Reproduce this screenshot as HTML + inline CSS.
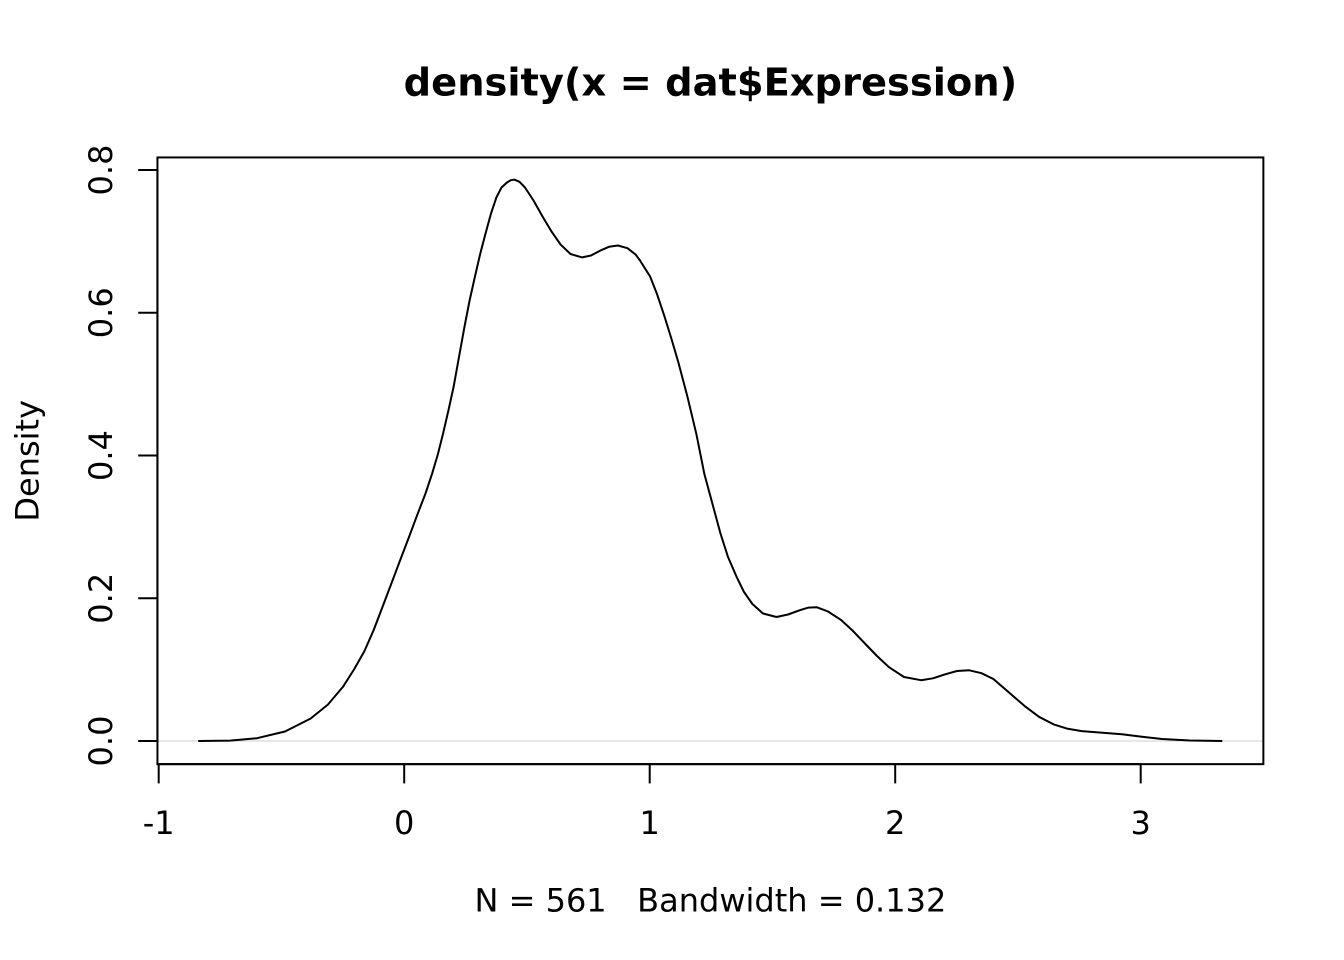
<!DOCTYPE html>
<html>
<head>
<meta charset="utf-8">
<style>
  html, body { margin:0; padding:0; background:#ffffff; }
  svg { display:block; }
  text { font-family: "DejaVu Sans", "Liberation Sans", sans-serif; fill:#000; }
</style>
</head>
<body>
<svg width="1344" height="960" viewBox="0 0 1344 960" xmlns="http://www.w3.org/2000/svg">
  <rect x="0" y="0" width="1344" height="960" fill="#ffffff"/>

  <!-- Title -->
  <text x="710.4" y="95.5" font-size="38.4" font-weight="bold" text-anchor="middle">density(x = dat$Expression)</text>

  <!-- zero line -->
  <line x1="157.44" y1="741" x2="1263.36" y2="741" stroke="#cfcfcf" stroke-width="1"/>

  <!-- density curve -->
  <polyline fill="none" stroke="#000" stroke-width="2" stroke-linejoin="round" stroke-linecap="butt"
    points="198.2,741 230,740.6 257,738.2 285,731.5 310.7,718.5 328,704.5 342.9,686.9 354,669.5 364.3,651.4 373.5,630.5 382.1,608 391,584.5 400,560.6 409,537 417.9,513.2 425.5,493.5 432.1,473.7 437.8,454.5 442.9,434.2 448.3,411 453.6,386.9 459,357 464.3,327.7 469.6,300.5 475,276.3 480.3,253.5 485.7,232.9 491,213.5 496.4,197.4 501.5,187.5 507.1,182.4 510.8,180.2 514.3,179.6 519.5,181.8 525,187.5 533.5,200.5 542.9,217.1 551.5,231.5 560.7,244.7 570.5,254 582.1,257.4 591,255.5 600,250.7 609,246.8 617.9,245.5 627.5,248.2 635.7,254.6 640,260.5 650,276.3 657,294 664.3,315.8 671.5,339 678.6,363.2 687.5,397 696.4,434.2 704.3,473.7 710,494.8 720.3,532.9 728,557 736.4,576.4 744,592 752.4,604 763,613.5 776.5,617 788,614.5 800.6,609.9 808.5,607.6 816.7,607.2 828,611.5 840.8,619.8 852.5,630.5 864.9,643.5 877,656 889,667.2 904,677 921.1,680.2 933,678.3 945.2,674.3 957,671 969.3,670.3 981.5,673.2 993.4,679 1009,692.5 1025.5,706.7 1039,716.8 1053.7,724.4 1067,728.6 1081.8,731.1 1101,732.6 1121.9,734.3 1142,736.8 1162.1,739 1190,740.5 1222.3,741"/>

  <!-- plot box -->
  <rect x="157.44" y="157.44" width="1105.92" height="606.72" fill="none" stroke="#000" stroke-width="2"/>

  <!-- x axis ticks -->
  <g stroke="#000" stroke-width="2">
    <line x1="158.7" y1="764.16" x2="158.7" y2="783.4"/>
    <line x1="404.2" y1="764.16" x2="404.2" y2="783.4"/>
    <line x1="649.7" y1="764.16" x2="649.7" y2="783.4"/>
    <line x1="895.2" y1="764.16" x2="895.2" y2="783.4"/>
    <line x1="1140.7" y1="764.16" x2="1140.7" y2="783.4"/>
    <line x1="158.7" y1="764.16" x2="1140.7" y2="764.16"/>
  </g>
  <g font-size="32" text-anchor="middle">
    <text x="158.7" y="834">-1</text>
    <text x="404.2" y="834">0</text>
    <text x="649.7" y="834">1</text>
    <text x="895.2" y="834">2</text>
    <text x="1140.7" y="834">3</text>
  </g>

  <!-- y axis ticks -->
  <g stroke="#000" stroke-width="2">
    <line x1="138.2" y1="741" x2="157.44" y2="741"/>
    <line x1="138.2" y1="598.25" x2="157.44" y2="598.25"/>
    <line x1="138.2" y1="455.5" x2="157.44" y2="455.5"/>
    <line x1="138.2" y1="312.75" x2="157.44" y2="312.75"/>
    <line x1="138.2" y1="170" x2="157.44" y2="170"/>
    <line x1="157.44" y1="170" x2="157.44" y2="741"/>
  </g>
  <g font-size="32" text-anchor="middle">
    <text transform="translate(112,741) rotate(-90)" x="0" y="0">0.0</text>
    <text transform="translate(112,598.25) rotate(-90)" x="0" y="0">0.2</text>
    <text transform="translate(112,455.5) rotate(-90)" x="0" y="0">0.4</text>
    <text transform="translate(112,312.75) rotate(-90)" x="0" y="0">0.6</text>
    <text transform="translate(112,170) rotate(-90)" x="0" y="0">0.8</text>
  </g>

  <!-- axis label -->
  <text transform="translate(38.5,460.8) rotate(-90)" x="0" y="0" font-size="32" text-anchor="middle">Density</text>

  <!-- sub -->
  <text x="710.4" y="911.5" font-size="32" text-anchor="middle" xml:space="preserve">N = 561   Bandwidth = 0.132</text>
</svg>
</body>
</html>
